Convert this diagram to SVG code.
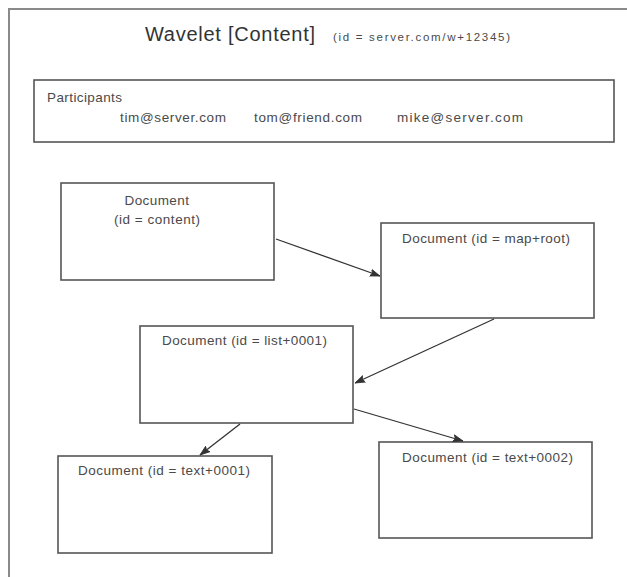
<svg xmlns="http://www.w3.org/2000/svg" width="627" height="577" viewBox="0 0 627 577">
<defs>
<style>
.frame{fill:none;stroke:#8a8a8a;stroke-width:2}
.box{fill:#fff;stroke:#555;stroke-width:1.6}
.t{font-family:"Liberation Sans",Arial,sans-serif;fill:#4a4a4a;font-size:13.5px}
.title{font-size:20px;fill:#333}
.small{font-size:11.5px}
.conn{fill:none;stroke:#333;stroke-width:1.3;marker-end:url(#arr)}
</style>
<marker id="arr" markerUnits="userSpaceOnUse" markerWidth="11" markerHeight="8" refX="10" refY="4" orient="auto">
<path d="M0,0.5 L10,4 L0,7.5 L2,4 z" fill="#333" stroke="#333" stroke-width="0.8"/>
</marker>
</defs>
<rect width="627" height="577" fill="#fff"/>
<path class="frame" d="M9,577 V9 H627"/>
<g id="title">
<text class="t title" x="145" y="41" textLength="170">Wavelet [Content]</text>
<text class="t small" x="333" y="41" textLength="177">(id = server.com/w+12345)</text>
</g>
<g id="participants">
<rect class="box" x="34" y="80" width="580" height="62"/>
<text class="t" x="47" y="102" textLength="75">Participants</text>
<text class="t" x="120" y="122" textLength="106">tim@server.com</text>
<text class="t" x="254" y="122" textLength="108">tom@friend.com</text>
<text class="t" x="397" y="122" textLength="126">mike@server.com</text>
</g>
<g id="doc-content">
<rect class="box" x="61" y="183" width="213" height="97"/>
<text class="t" x="124.5" y="205" textLength="64.5">Document</text>
<text class="t" x="114" y="224" textLength="86">(id = content)</text>
</g>
<g id="doc-map-root">
<rect class="box" x="381" y="223" width="213" height="95"/>
<text class="t" x="402" y="243" textLength="168">Document (id = map+root)</text>
</g>
<g id="doc-list-0001">
<rect class="box" x="140" y="326" width="213" height="97"/>
<text class="t" x="162" y="345" textLength="165">Document (id = list+0001)</text>
</g>
<g id="doc-text-0001">
<rect class="box" x="58" y="456" width="214" height="97"/>
<text class="t" x="78" y="475" textLength="172">Document (id = text+0001)</text>
</g>
<g id="doc-text-0002">
<rect class="box" x="379" y="442" width="213" height="96"/>
<text class="t" x="402" y="462" textLength="171">Document (id = text+0002)</text>
</g>
<g id="connectors">
<line class="conn" x1="276" y1="239" x2="380" y2="276"/>
<line class="conn" x1="494" y1="319" x2="355" y2="383"/>
<line class="conn" x1="240" y1="424" x2="200" y2="455"/>
<line class="conn" x1="354" y1="409" x2="463" y2="441"/>
</g>
</svg>
